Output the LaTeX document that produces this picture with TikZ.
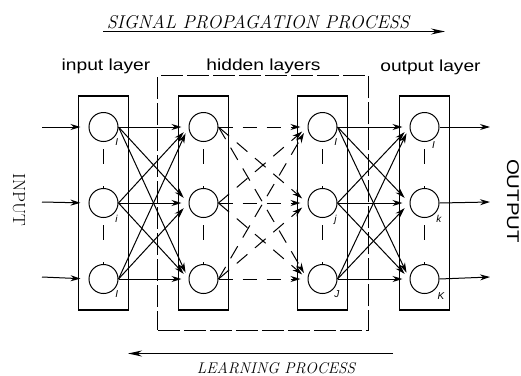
\documentclass[tikz,border=0pt]{standalone}
\usepackage{fontspec}
\newfontfamily\lblfont{Liberation Sans}[FakeStretch=1.2]
\newfontfamily\idxfont{Liberation Sans}
\usetikzlibrary{positioning, arrows.meta, fit}

\begin{document}
\begin{tikzpicture}[x=1pt, y=-1pt, node distance=46pt,
    neuron/.style={circle, draw, line width=1pt, minimum size=29pt, inner sep=0pt},
    layerbox/.style={draw, line width=1.2pt, inner xsep=10pt, inner ysep=16pt},
    hiddenbox/.style={draw, line width=1pt, dash pattern=on 22pt off 4pt,
                      inner xsep=20pt, inner ysep=19.5pt},
    link/.style={-{Stealth[length=10pt, width=6pt]}, line width=1pt, shorten >=7pt},
    dlink/.style={link, dash pattern=on 14pt off 10pt},
    vdash/.style={line width=1pt, dash pattern=on 0pt off 7pt on 15pt off 22pt on 4pt off 10pt},
    idx/.style={font=\idxfont\itshape\fontsize{10}{10}\selectfont, inner sep=1pt, label distance=0pt},
    lbl/.style={font=\lblfont\fontsize{16}{16}\selectfont, anchor=base},
    proc/.style={font=\itshape\fontsize{16}{16}\selectfont, anchor=base},
    bigarrow/.style={-{Stealth[length=14pt, width=6pt]}, line width=1.1pt}]
  \useasboundingbox (0,0) rectangle (521,375);

  % neurons
  \node[neuron, label={[idx]-45:I}] (in1) at (103.5,127) {};
  \node[neuron, label={[idx]-45:i}, below=of in1] (in2) {};
  \node[neuron, label={[idx]-45:I}, below=of in2] (in3) {};
  \node[neuron] (hA1) at (203.5,127) {};
  \node[neuron, below=of hA1] (hA2) {};
  \node[neuron, below=of hA2] (hA3) {};
  \node[neuron, label={[idx]-45:I}] (hB1) at (322.5,127) {};
  \node[neuron, label={[idx]-45:j}, below=of hB1] (hB2) {};
  \node[neuron, label={[idx]-45:J}, below=of hB2] (hB3) {};
  \node[neuron, label={[idx]-65:I}] (out1) at (424.5,127) {};
  \node[neuron, label={[idx]-45:k}, below=of out1] (out2) {};
  \node[neuron, label={[idx, label distance=2pt]-45:K}, below=of out2] (out3) {};

  % layer boxes
  \node[layerbox, fit=(in1)(in3)] (Lin) {};
  \node[layerbox, fit=(hA1)(hA3)] (LhA) {};
  \node[layerbox, fit=(hB1)(hB3)] (LhB) {};
  \node[layerbox, fit=(out1)(out3)] (Lout) {};
  \node[hiddenbox, fit=(LhA)(LhB)] (Lhid) {};

  % dashes inside the layers
  \foreach \n in {in, hA, hB, out} {
    \draw[vdash] (\n1.south) -- (\n2.north);
    \draw[vdash] (\n2.south) -- (\n3.north);
  }

  % connections
  \foreach \a/\y in {1/127, 2/202, 3/277} {
    \coordinate (src\a) at (42,\y);
    \coordinate (dst\a) at (490,\y);
    \draw[link, shorten >=8pt] (src\a) -- (in\a.west);
    \draw[link, shorten >=0pt] (out\a.east) -- (dst\a);
    \foreach \b in {1,2,3} {
      \draw[link] (in\a.east) -- (hA\b.west);
      \draw[dlink] (hA\a.east) -- (hB\b.west);
      \draw[link] (hB\a.east) -- (out\b.west);
    }
  }

  % titles
  \node[lbl] (tin) at (106,70) {input layer};
  \node[lbl] (thid) at (263.5,70) {hidden layers};
  \node[lbl] (tout) at (430.5,71) {output layer};
  \node[font=\fontsize{17.5}{17.5}\selectfont, rotate=-90] (tinput) at (19,200) {INPUT};
  \node[font=\lblfont\fontsize{17}{17}\selectfont, rotate=-90] (toutput) at (513,201) {OUTPUT};

  % processes
  \node[proc, font=\itshape\fontsize{18.5}{18.5}\selectfont] (sig) at (258,28) {SIGNAL PROPAGATION PROCESS};
  \coordinate (sigS) at (103,31.5);
  \coordinate (sigE) at (445,31.5);
  \draw[bigarrow] (sigS) -- (sigE);
  \node[proc, font=\itshape\fontsize{15.5}{15.5}\selectfont] (learn) at (276,373) {LEARNING PROCESS};
  \coordinate (learnS) at (393,353.5);
  \coordinate (learnE) at (128,353.5);
  \draw[bigarrow] (learnS) -- (learnE);
\end{tikzpicture}
\end{document}
